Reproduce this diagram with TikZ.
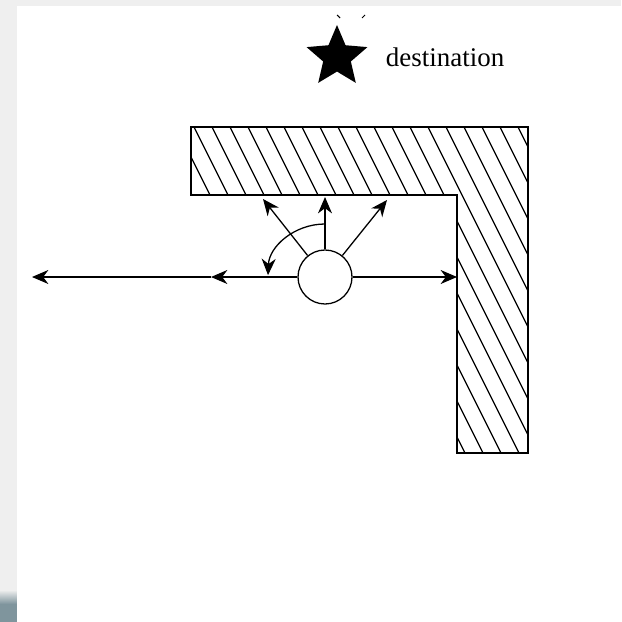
\documentclass[tikz,border=0pt]{standalone}
\usepackage{fontspec}
\setmainfont{Liberation Serif}
\usepackage{tikz}
\usetikzlibrary{positioning,arrows.meta,shapes.geometric}
\usepackage{xcolor}
\definecolor{stripgray}{HTML}{EFEFEF}
\definecolor{stripdark}{HTML}{7F959D}

\begin{document}
\begin{tikzpicture}[x=0.03cm, y=-0.03cm, line width=1.1pt,
  ray/.style={-{Stealth[length=14pt, width=12pt, inset=4.5pt]}},
  hatch/.style={line width=1pt}]
  % Page and grey margins
  \useasboundingbox (0,0) rectangle (621,622);
  \fill[stripgray] (0,0) rectangle (621,622);
  \shade[top color=stripgray, bottom color=stripdark] (0,590) rectangle (17,604);
  \fill[stripdark] (0,604) rectangle (17,622);
  \fill[white] (17,6) rectangle (621,622);
  % L-shaped wall with hatching
  \begin{scope}
    \clip (191,127) -- (528,127) -- (528,453) -- (457,453) -- (457,195) -- (191,195) -- cycle;
    \foreach \k in {-22,...,19} {
      \draw[hatch] (194+18*\k, 127) -- ++(200, 400);
    }
  \end{scope}
  \draw (191,127) -- (528,127) -- (528,453) -- (457,453) -- (457,195) -- (191,195) -- cycle;
  % Robot and its rays
  \node[draw, circle, fill=white, minimum size=1.62cm, inner sep=0] (robot) at (325,277) {};
  \coordinate (mid) at (211,277);
  \coordinate (far) at (32,277);
  \coordinate (hit) at (457,277);
  \coordinate (up) at (325,197);
  \coordinate (upl) at (263,199);
  \coordinate (upr) at (387,200);
  \coordinate (sweep) at (325,224);
  \draw[ray] (robot.west) -- (mid);
  \draw[ray] (mid) -- (far);
  \draw[ray] (robot.east) -- (hit);
  \draw[ray] (robot.north) -- (up);
  \draw[ray] (robot.129) -- (upl);
  \draw[ray] (robot.51) -- (upr);
  \draw[ray] (sweep) arc[start angle=-90, end angle=-178, x radius=57, y radius=53];
  % Destination
  \node[star, star points=5, star point ratio=2.2, fill, minimum size=1.92cm, inner sep=0] (dest) at (337,57) {};
  \node[right=0.85cm of dest, inner sep=0, font=\fontsize{23pt}{27pt}\selectfont] (destlabel) {destination};
  \draw[line width=0.9pt] (337,15) -- (340,18);
  \draw[line width=0.9pt] (362,18) -- (365,15);
\end{tikzpicture}
\end{document}
